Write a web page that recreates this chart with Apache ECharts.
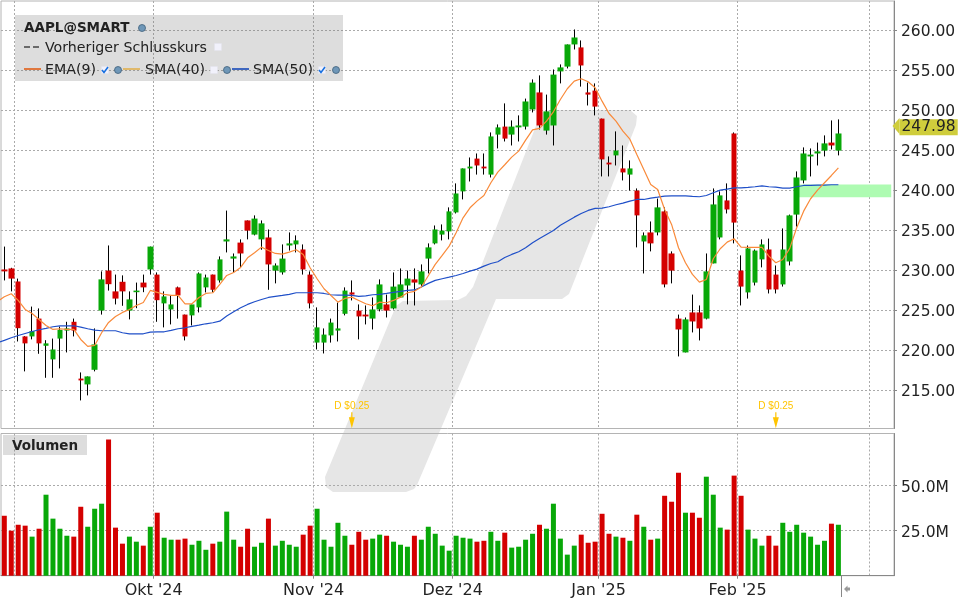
<!DOCTYPE html>
<html lang="de">
<head>
    <meta charset="UTF-8">
    <title>AAPL@SMART</title>
    <script src="https://cdn.jsdelivr.net/npm/echarts@6/dist/echarts.min.js"></script>
    <style>
        html, body { margin: 0; padding: 0; background: #fff; }
    </style>
</head>
<body>
    <div id="chart" style="width: 960px; height: 600px;"></div>

    <script>
        var opens = [
            230.04, 230.17, 228.54, 221.67, 221.67, 223.9, 220.5, 218.8, 221.4, 222.4,
            223.5, 216.4, 215.67, 217.5, 224.9, 229.9, 227.3, 228.5, 224.9, 227.2,
            228.4, 230.04, 229.4, 225.8, 225.04, 227.8, 224.4, 224.3, 225.3, 227.8,
            229.4, 228.67, 233.54, 231.4, 233.4, 236.17, 234.4, 233.8, 234.04, 229.9,
            229.67, 233.04, 233.17, 232.54, 229.4, 220.9, 220.9, 221.8, 222.4, 224.5,
            227.17, 224.9, 224.4, 223.9, 225.04, 225.67, 225.17, 226.54, 228.04, 228.8,
            228.17, 231.4, 233.3, 234.4, 234.8, 237.17, 239.8, 242.67, 243.9, 242.9,
            241.9, 246.9, 247.9, 246.9, 247.8, 247.9, 250.04, 252.17, 247.4, 248.04,
            254.8, 255.4, 258.17, 257.8, 252.17, 252.4, 248.9, 243.4, 244.3, 242.67,
            241.9, 239.9, 233.54, 234.67, 234.67, 237.3, 232.04, 223.9, 219.67, 224.67,
            224.67, 223.9, 230.8, 234.04, 238.67, 247.04, 229.9, 227.17, 228.4, 231.3,
            232.54, 229.4, 228.17, 231.04, 236.9, 241.17, 244.17, 244.54, 244.9, 245.9, 244.9
        ];
        var closes = [
            229.8, 228.9, 222.7, 220.8, 222.33, 220.8, 220.8, 220.04, 222.5, 222.67,
            222.4, 216.17, 216.67, 220.67, 228.8, 228.2, 226.4, 227.3, 226.3, 227.4,
            227.8, 232.9, 226.2, 226.67, 225.67, 226.8, 221.67, 225.67, 229.54, 229.04,
            227.5, 231.3, 233.8, 231.67, 232.04, 234.9, 236.4, 235.8, 230.67, 230.54,
            231.4, 233.3, 233.67, 230.04, 225.8, 222.8, 221.9, 223.4, 222.67, 227.4,
            226.9, 224.17, 224.17, 225.04, 228.17, 224.9, 227.9, 228.17, 228.9, 228.4,
            229.8, 232.8, 235.04, 234.9, 237.3, 239.54, 242.67, 242.9, 243.04, 242.67,
            246.67, 247.8, 246.4, 247.9, 248.04, 251.04, 253.4, 248.04, 249.8, 254.4,
            255.3, 258.17, 259.04, 255.54, 251.9, 250.4, 243.8, 243.17, 244.9, 242.17,
            242.67, 236.8, 234.3, 233.3, 237.8, 228.17, 229.9, 222.54, 223.8, 223.54,
            222.67, 229.8, 238.17, 239.3, 237.54, 235.9, 227.9, 232.67, 232.4, 233.17,
            227.54, 227.54, 232.54, 236.8, 241.54, 244.54, 244.4, 244.8, 245.8, 245.54, 247.04
        ];
        var highs = [
            232.9, 230.25, 228.9, 221.7, 225.4, 225.17, 221.2, 221.4, 222.9, 223.5,
            223.9, 217.17, 216.67, 222.67, 229.8, 233.04, 229.4, 229.3, 227.3, 228.4,
            229.4, 232.9, 229.67, 227.3, 226.8, 227.9, 224.4, 225.67, 229.67, 229.4,
            229.4, 231.67, 237.4, 232.04, 233.8, 236.17, 236.8, 236.17, 235.04, 230.8,
            233.17, 234.67, 234.3, 233.17, 229.8, 225.3, 222.67, 223.9, 225.9, 227.8,
            228.67, 225.67, 225.54, 226.54, 228.8, 226.9, 229.67, 230.17, 229.9, 230.17,
            230.67, 233.3, 235.54, 235.67, 237.8, 240.8, 242.67, 244.04, 244.54, 244.54,
            247.17, 248.17, 250.8, 248.67, 249.3, 251.4, 253.8, 254.3, 251.9, 255.04,
            255.67, 258.17, 260.04, 258.67, 253.4, 253.3, 248.9, 244.17, 247.3, 245.54,
            243.67, 240.17, 234.67, 236.04, 238.9, 237.8, 232.3, 224.4, 224.04, 226.9,
            225.54, 232.04, 240.17, 239.8, 240.8, 247.17, 231.8, 233.04, 232.54, 233.8,
            233.9, 230.54, 235.17, 236.9, 242.3, 245.3, 245.17, 245.9, 246.8, 248.67, 248.8
        ];
        var lows = [
            228.67, 227.3, 221.04, 217.3, 221.3, 219.5, 216.5, 216.5, 217.67, 219.67,
            221.67, 213.67, 214.3, 217.3, 224.4, 227.4, 225.67, 225.5, 223.8, 225.2,
            227.2, 229.4, 223.5, 222.8, 223.17, 223.9, 221.17, 223.04, 224.67, 227.17,
            227.2, 228.4, 232.17, 229.67, 230.3, 233.8, 234.3, 232.5, 227.5, 228.3,
            229.4, 232.4, 232.17, 229.4, 225.17, 220.04, 219.54, 220.9, 221.04, 224.3,
            226.17, 221.3, 223.17, 222.54, 224.8, 224.04, 225.04, 226.54, 225.67, 225.54,
            227.9, 229.54, 233.17, 233.67, 233.8, 237.04, 238.8, 241.04, 241.9, 241.9,
            241.54, 245.17, 246.04, 245.54, 246.04, 247.54, 249.67, 247.54, 246.9, 245.54,
            253.3, 255.17, 257.54, 252.9, 250.54, 249.3, 241.67, 241.67, 243.04, 241.17,
            239.9, 232.8, 229.54, 232.3, 234.3, 227.8, 228.3, 219.17, 219.67, 222.17,
            221.17, 223.8, 230.8, 233.8, 237.04, 233.3, 225.54, 226.4, 228.04, 230.3,
            227.04, 227.04, 227.9, 230.54, 235.4, 240.8, 241.67, 243.04, 244.17, 245.04, 244.3
        ];
        var volumes = [
            33.3, 25, 28.3, 27.8, 21.7, 26.1, 45, 31.7, 26.1, 22.2,
            21.7, 38.3, 27.2, 37.2, 40, 75.6, 26.7, 17.8, 21.7, 18.9,
            16.7, 27.2, 35, 21.1, 20, 20, 20.6, 17.2, 19.4, 14.4,
            17.8, 18.9, 35.6, 20, 16.1, 26.1, 16.1, 18.3, 31.7, 16.7,
            19.4, 17.2, 16.1, 22.8, 27.8, 37.2, 20, 16.1, 29.4, 22.2,
            17.2, 24.4, 20, 20.6, 22.8, 22.2, 18.9, 17.2, 16.1, 22.2,
            20, 27.2, 23.3, 16.7, 13.9, 22.2, 21.1, 20.6, 18.9, 19.4,
            24.4, 19.4, 23.9, 15.6, 16.1, 20, 23.3, 28.3, 26.1, 40,
            20.6, 11.7, 16.7, 22.8, 18.3, 18.9, 34.4, 23.3, 21.7, 21.1,
            19.4, 33.9, 27.2, 20, 20.6, 44.4, 41.1, 57.2, 35, 35,
            32.2, 55, 45, 26.7, 25.6, 55.6, 44.4, 25.6, 20.6, 16.7,
            22.2, 16.7, 29.4, 24.4, 28.3, 23.9, 21.7, 17.2, 19.4, 28.9, 28.3
        ];
        var ema9 = [
            226.63, 227.0, 226.17, 225.04, 224.54, 223.79, 223.04, 222.54, 222.63, 222.54,
            222.54, 221.29, 220.42, 220.54, 222.13, 223.42, 224.17, 224.67, 225.04, 225.54,
            225.92, 227.42, 227.17, 226.92, 226.79, 226.79, 225.75, 225.75, 226.54, 227.04,
            227.13, 228.17, 229.29, 229.67, 230.29, 231.5, 232.13, 232.83, 232.42, 232.04,
            231.96, 232.21, 232.5, 231.92, 230.25, 228.88, 227.63, 226.79, 225.96, 226.42,
            226.58, 226.17, 225.75, 225.5, 225.96, 225.88, 226.17, 226.58, 227.13, 227.31,
            227.85, 229.25, 230.67, 231.79, 232.96, 234.63, 236.5, 237.75, 238.58, 239.29,
            240.88, 242.21, 243.13, 244.08, 244.83, 246.21, 247.5, 247.67, 248.58, 249.75,
            251.29, 252.63, 253.58, 253.88, 253.5, 252.75, 251.08, 249.54, 248.58, 247.33,
            246.33, 244.42, 242.54, 240.67, 240.04, 237.54, 235.67, 232.75, 230.88, 229.42,
            228.46, 228.79, 231.38, 232.63, 233.46, 233.88, 232.83, 232.79, 232.79, 232.79,
            231.71, 230.88, 231.29, 232.67, 235.25, 237.33, 238.88, 239.96, 240.88, 241.79, 242.75
        ];
        var sma50 = [
            221.17, 221.5, 221.79, 222.04, 222.29, 222.5, 222.67, 222.88, 223, 223,
            223, 222.83, 222.63, 222.46, 222.38, 222.38, 222.38, 222.13, 222, 222,
            222, 222.21, 222.25, 222.25, 222.42, 222.63, 222.75, 222.92, 223.08, 223.25,
            223.38, 223.58, 224.21, 224.75, 225.25, 225.67, 226, 226.29, 226.54, 226.67,
            226.79, 226.92, 227.13, 227.13, 227.13, 227.13, 227.04, 226.88, 226.83, 226.83,
            226.79, 226.67, 226.75, 226.88, 226.92, 227.04, 227.17, 227.29, 227.42, 227.48,
            227.85, 228.3, 228.67, 228.88, 229.08, 229.29, 229.54, 229.83, 230.08, 230.46,
            230.79, 231, 231.54, 231.92, 232.25, 232.75, 233.38, 233.92, 234.42, 234.92,
            235.58, 236.08, 236.58, 237.04, 237.42, 237.67, 237.71, 237.88, 238.13, 238.33,
            238.58, 238.79, 238.79, 238.96, 239.08, 239.21, 239.25, 239.25, 239.25, 239.17,
            239.13, 239.29, 239.63, 239.96, 240.08, 240.25, 240.25, 240.29, 240.38, 240.5,
            240.38, 240.33, 240.21, 240.21, 240.38, 240.54, 240.54, 240.58, 240.58, 240.63, 240.63
        ];
        // value of the averages one bar before the visible window
        var emaLead = 226.0;
        var smaLead = 220.9;

        var monthTicks = [1.5, 21.5, 44.5, 64.5, 85.5, 105.5, 124.5];
        var monthLabelTicks = [21.5, 44.5, 64.5, 85.5, 105.5];
        var monthLabels = ["Okt '24", "Nov '24", "Dez '24", "Jan '25", "Feb '25"];
        var priceTicks = [215, 220, 225, 230, 235, 240, 245, 250, 255, 260];
        var volumeTicks = [25, 50];

        var lastPrice = 247.98;
        var dividendBars = [50, 111];
        var dividendLabel = 'D $0.25';
        var zoneBars = [114, 127.6];
        var zonePrices = [239.08, 240.66];

        var GREEN = '#08a808';
        var RED = '#d40000';
        var FONT = '"DejaVu Sans", sans-serif';
        var PANEL_GRAY = 'rgba(120,120,120,0.25)';

        var chart = echarts.init(document.getElementById('chart'));

        var wickData = [];
        var bodyData = [];
        var volumeData = [];
        var emaData = [[-1, emaLead]];
        var smaData = [[-1, smaLead]];
        for (var i = 0; i < opens.length; i++) {
            wickData.push([i, opens[i], closes[i], lows[i], highs[i]]);
            bodyData.push([i, opens[i], closes[i], Math.min(opens[i], closes[i]), Math.max(opens[i], closes[i])]);
            volumeData.push({
                value: [i, volumes[i]],
                itemStyle: { color: closes[i] > opens[i] ? GREEN : RED }
            });
            emaData.push([i, ema9[i]]);
            smaData.push([i, sma50[i]]);
        }

        function legendText(x, y, text, bold) {
            return {
                type: 'text', x: x, y: y, z: 50,
                style: {
                    text: text, fill: '#222', fontFamily: FONT, fontSize: bold ? 13.5 : 14.2,
                    fontWeight: bold ? 'bold' : 'normal', verticalAlign: 'middle'
                }
            };
        }

        function legendLine(x, y, color, dashed) {
            return {
                type: 'line', z: 50,
                shape: { x1: x, y1: y, x2: x + 17, y2: y },
                style: { stroke: color, lineWidth: 1.5, lineDash: dashed ? [6, 3] : null }
            };
        }

        function legendGlobe(x, y) {
            return {
                type: 'circle', z: 50,
                shape: { cx: x, cy: y, r: 3.5 },
                style: { fill: '#6f97b8', stroke: '#3f5f7a', lineWidth: 0.8 }
            };
        }

        function legendBox(x, y) {
            return {
                type: 'rect', z: 50,
                shape: { x: x - 3.5, y: y - 3.5, width: 7, height: 7 },
                style: { fill: '#f1f1fb', stroke: '#e3e3ee', lineWidth: 0.5 }
            };
        }

        function legendCheck(x, y) {
            return {
                type: 'polyline', z: 51,
                shape: { points: [[x - 3, y], [x - 1, y + 2.5], [x + 3, y - 3]] },
                style: { stroke: '#1670e0', lineWidth: 1.6, fill: null }
            };
        }

        var graphics = [
            // watermark
            {
                type: 'polygon', z: -1,
                shape: {
                    points: [
                        [325, 477], [326, 487], [333, 492], [406, 492], [414, 489], [417, 485],
                        [496, 299], [562, 299], [569, 294], [636, 125], [637, 116], [630, 110],
                        [549, 110], [541, 113], [473, 287], [466, 296], [458, 300], [403, 301],
                        [396, 306]
                    ]
                },
                style: { fill: '#e6e6e6' }
            },
            // legend block
            { type: 'rect', z: 49, shape: { x: 15, y: 15, width: 328, height: 66 }, style: { fill: PANEL_GRAY } },
            legendText(24, 28, 'AAPL@SMART', true),
            legendGlobe(142, 28),
            legendLine(24, 47, '#444', true),
            legendText(45, 48, 'Vorheriger Schlusskurs', false),
            legendBox(218, 47),
            legendLine(24, 69, '#e0560a', false),
            legendText(45, 70, 'EMA(9)', false),
            legendBox(105, 70),
            legendCheck(105, 70),
            legendGlobe(118, 70),
            legendLine(123, 69, '#e0ad45', false),
            legendText(145, 70, 'SMA(40)', false),
            legendBox(214, 70),
            legendGlobe(227, 70),
            legendLine(232, 69, '#0a3fb4', false),
            legendText(253, 70, 'SMA(50)', false),
            legendBox(322, 70),
            legendCheck(322, 70),
            legendGlobe(336, 70),
            // volume title
            { type: 'rect', z: 49, shape: { x: 3, y: 435, width: 84, height: 20 }, style: { fill: PANEL_GRAY } },
            legendText(12, 446, 'Volumen', true),
            // scroll marker below the axis
            {
                type: 'line', z: 50,
                shape: { x1: 841.5, y1: 576, x2: 841.5, y2: 597 },
                style: { stroke: '#888', lineWidth: 1 }
            },
            {
                type: 'polygon', z: 50,
                shape: { points: [[844, 589], [847.5, 585.5], [847.5, 587.5], [850, 587.5], [850, 590.5], [847.5, 590.5], [847.5, 592.5]] },
                style: { fill: '#999' }
            }
        ];

        var dottedLine = { show: true, lineStyle: { color: '#aaa', width: 1, type: [2, 2] } };

        chart.setOption({
            animation: false,
            backgroundColor: '#fff',
            graphic: graphics,
            grid: [
                { left: 1, top: 1, width: 893, height: 427.5, show: true, borderColor: '#b4b4b4', borderWidth: 1, backgroundColor: 'transparent' },
                { left: 1, top: 433.5, width: 893, height: 142.2, show: true, borderColor: '#b4b4b4', borderWidth: 1, backgroundColor: 'transparent' }
            ],
            xAxis: [
                {
                    type: 'value', gridIndex: 0, min: -0.475, max: 128,
                    axisLine: { show: false },
                    axisTick: { show: false, customValues: monthTicks },
                    axisLabel: { show: false, customValues: monthTicks },
                    splitLine: dottedLine
                },
                {
                    type: 'value', gridIndex: 1, position: 'bottom', min: -0.475, max: 128,
                    axisLine: { show: false },
                    axisTick: { show: false, customValues: monthTicks },
                    axisLabel: { show: false, customValues: monthTicks },
                    splitLine: dottedLine
                },
                // only the labelled months get a tick under the volume panel
                {
                    type: 'value', gridIndex: 1, position: 'bottom', min: -0.475, max: 128,
                    axisLine: { show: true, onZero: false, lineStyle: { color: '#888', width: 1 } },
                    axisTick: { show: true, length: 3, lineStyle: { color: '#888' }, customValues: monthLabelTicks },
                    axisLabel: {
                        show: true, customValues: monthLabelTicks, margin: 7,
                        color: '#222', fontFamily: FONT, fontSize: 16,
                        formatter: function (value) {
                            return monthLabels[monthLabelTicks.indexOf(value)];
                        }
                    },
                    splitLine: { show: false }
                }
            ],
            yAxis: [
                {
                    type: 'value', gridIndex: 0, position: 'right', min: 210.16, max: 263.6, scale: true,
                    axisLine: { show: true, onZero: false, lineStyle: { color: '#888', width: 1 } },
                    axisTick: { show: true, length: 3, lineStyle: { color: '#888' }, customValues: priceTicks },
                    axisLabel: {
                        show: true, customValues: priceTicks, margin: 7,
                        verticalAlign: 'top', lineHeight: 4.5,
                        color: '#222', fontFamily: FONT, fontSize: 15.5,
                        formatter: function (value) { return value.toFixed(2); }
                    },
                    splitLine: dottedLine
                },
                {
                    type: 'value', gridIndex: 1, position: 'right', min: 0, max: 79,
                    axisLine: { show: true, onZero: false, lineStyle: { color: '#888', width: 1 } },
                    axisTick: { show: true, length: 3, lineStyle: { color: '#888' }, customValues: volumeTicks },
                    axisLabel: {
                        show: true, customValues: volumeTicks, margin: 7,
                        verticalAlign: 'top', lineHeight: 4,
                        color: '#222', fontFamily: FONT, fontSize: 15.5,
                        formatter: function (value) { return value.toFixed(1) + 'M'; }
                    },
                    splitLine: dottedLine
                }
            ],
            series: [
                {
                    name: 'Dochte', type: 'candlestick', xAxisIndex: 0, yAxisIndex: 0, z: 2,
                    barWidth: 1, data: wickData,
                    itemStyle: { color: '#000', color0: '#000', borderColor: '#000', borderColor0: '#000', borderWidth: 1 },
                    markArea: {
                        silent: true,
                        itemStyle: { color: '#aefbb2' },
                        data: [[{ coord: [zoneBars[0], zonePrices[1]] }, { coord: [zoneBars[1], zonePrices[0]] }]]
                    }
                },
                {
                    name: 'AAPL', type: 'candlestick', xAxisIndex: 0, yAxisIndex: 0, z: 3,
                    barWidth: 6, data: bodyData,
                    itemStyle: { color: GREEN, color0: RED, borderWidth: 0 }
                },
                {
                    name: 'SMA(50)', type: 'line', xAxisIndex: 0, yAxisIndex: 0, z: 4,
                    data: smaData, showSymbol: false, symbol: 'none',
                    lineStyle: { color: '#1f4fc8', width: 1.2 }
                },
                {
                    name: 'EMA(9)', type: 'line', xAxisIndex: 0, yAxisIndex: 0, z: 5,
                    data: emaData, showSymbol: false, symbol: 'none',
                    lineStyle: { color: '#f98a3a', width: 1.2 }
                },
                {
                    name: 'Dividende', type: 'scatter', xAxisIndex: 0, yAxisIndex: 0, z: 6,
                    data: dividendBars.map(function (bar) { return [bar, 211.2]; }),
                    symbol: 'path://M2.4,0 L3.6,0 L3.6,5 L6,5 L3,16 L0,5 L2.4,5 Z',
                    symbolSize: [6, 16],
                    itemStyle: { color: '#ffc400', opacity: 1 },
                    label: {
                        show: true, position: 'top', distance: 1, color: '#ffc400',
                        fontFamily: '"Liberation Sans", sans-serif', fontSize: 10,
                        formatter: function () { return dividendLabel; }
                    }
                },
                {
                    name: 'Letzter Kurs', type: 'scatter', xAxisIndex: 0, yAxisIndex: 0, z: 7, clip: false,
                    data: [[128, lastPrice]],
                    symbol: 'path://M7,0 L0,8 L7,16 Z',
                    symbolSize: [7, 16],
                    symbolOffset: [2, 0],
                    itemStyle: { color: '#cfcd3c', opacity: 1 },
                    label: {
                        show: true, position: 'right', distance: 0, offset: [0, 1.3], color: '#222',
                        backgroundColor: '#cfcd3c', padding: [1, 2, 0, 2], lineHeight: 15,
                        fontFamily: FONT, fontSize: 15.5,
                        formatter: function (params) { return params.value[1].toFixed(2); }
                    }
                },
                {
                    name: 'Volumen', type: 'bar', xAxisIndex: 1, yAxisIndex: 1, z: 3,
                    barWidth: 5, data: volumeData
                }
            ]
        });
    </script>
</body>
</html>
